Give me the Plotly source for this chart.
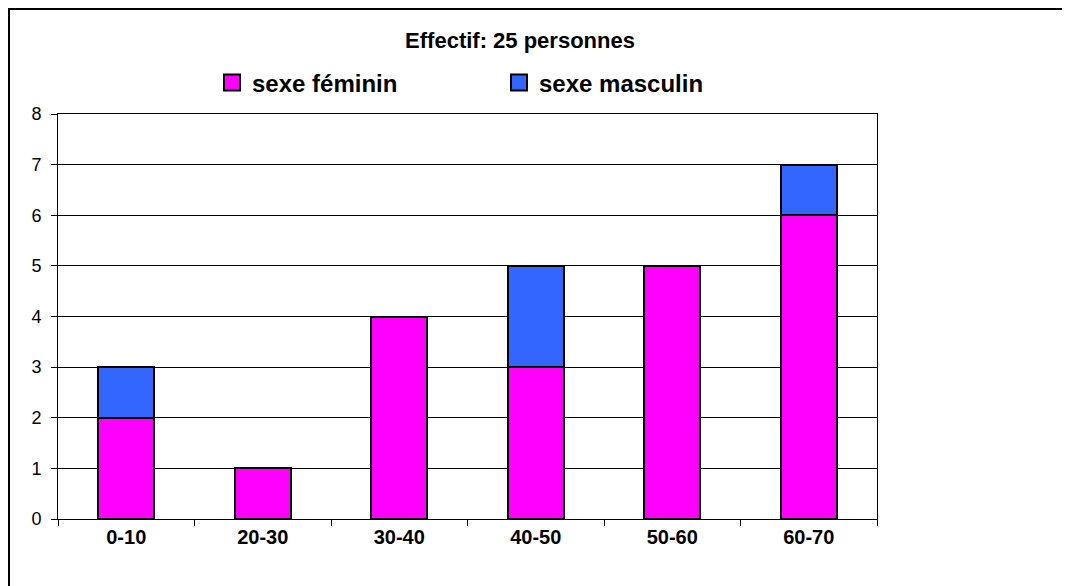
import plotly.graph_objects as go

categories = ["0-10", "20-30", "30-40", "40-50", "50-60", "60-70"]
feminin = [2, 1, 4, 3, 5, 6]
masculin = [1, 0, 0, 2, 0, 1]
title_text = "Effectif: 25 personnes"
name_f = "sexe féminin"
name_m = "sexe masculin"
col_f = "#FF00FF"
col_m = "#3366FF"

FONT = "Liberation Sans, Arial, sans-serif"

fig = go.Figure()
fig.add_trace(go.Bar(x=categories, y=feminin, marker=dict(color=col_f, line=dict(color="black", width=2)),
                     showlegend=False, name=name_f))
fig.add_trace(go.Bar(x=categories, y=[v if v else None for v in masculin],
                     marker=dict(color=col_m, line=dict(color="black", width=2)),
                     showlegend=False, name=name_m))
# legend entries
for nm, col in [(name_f, col_f), (name_m, col_m)]:
    fig.add_trace(go.Scatter(x=[None], y=[None], mode="markers", name=nm,
                             marker=dict(symbol="square", size=16, color=col,
                                         line=dict(color="black", width=2))))

# page body has an 8px margin: figure coordinates = screen coordinates - 8
W, H = 1062, 578
L, T = 50, 106
R = W - 869
B = H - 511
pw, ph = W - L - R, H - T - B

fig.update_layout(
    width=W, height=H,
    barmode="stack", bargap=0.59,
    margin=dict(l=L, r=R, t=T, b=B),
    paper_bgcolor="white", plot_bgcolor="white",
    font=dict(family=FONT, color="black"),
    title=dict(text="<b>" + title_text + "</b>", x=(512 - L) / pw, xref="paper", xanchor="center",
               y=1 - 32 / H, yanchor="middle", yref="container",
               font=dict(size=22, family=FONT, color="black")),
    legend=dict(orientation="h", x=(204 - L) / pw, xanchor="left",
                y=(H - B - 75) / ph, yanchor="middle", traceorder="normal",
                entrywidth=242, entrywidthmode="pixels",
                font=dict(size=24, family=FONT, color="black", weight="bold"),
                bgcolor="rgba(0,0,0,0)", itemsizing="trace"),
    xaxis=dict(type="category", showline=True, linecolor="black", linewidth=1, mirror=True,
               ticks="outside", tickson="boundaries", ticklen=6, tickcolor="black",
               showgrid=False, zeroline=False,
               tickfont=dict(size=20, family=FONT, color="black", weight="bold")),
    yaxis=dict(range=[0, 8], dtick=1, showline=True, linecolor="black", linewidth=1, mirror=True,
               ticks="outside", ticklen=6, tickcolor="black",
               showgrid=True, gridcolor="black", gridwidth=1, zeroline=False,
               tickfont=dict(size=18, family=FONT, color="black"), ticklabelstandoff=6),
    shapes=[dict(type="rect", xref="paper", yref="paper",
                 x0=(1 - L) / pw, x1=(W + 20 - L) / pw,
                 y0=-(B + 20) / ph, y1=(H - B - 1) / ph,
                 line=dict(color="black", width=2), fillcolor="rgba(0,0,0,0)", layer="below")],
)

fig.write_html("out.html")
